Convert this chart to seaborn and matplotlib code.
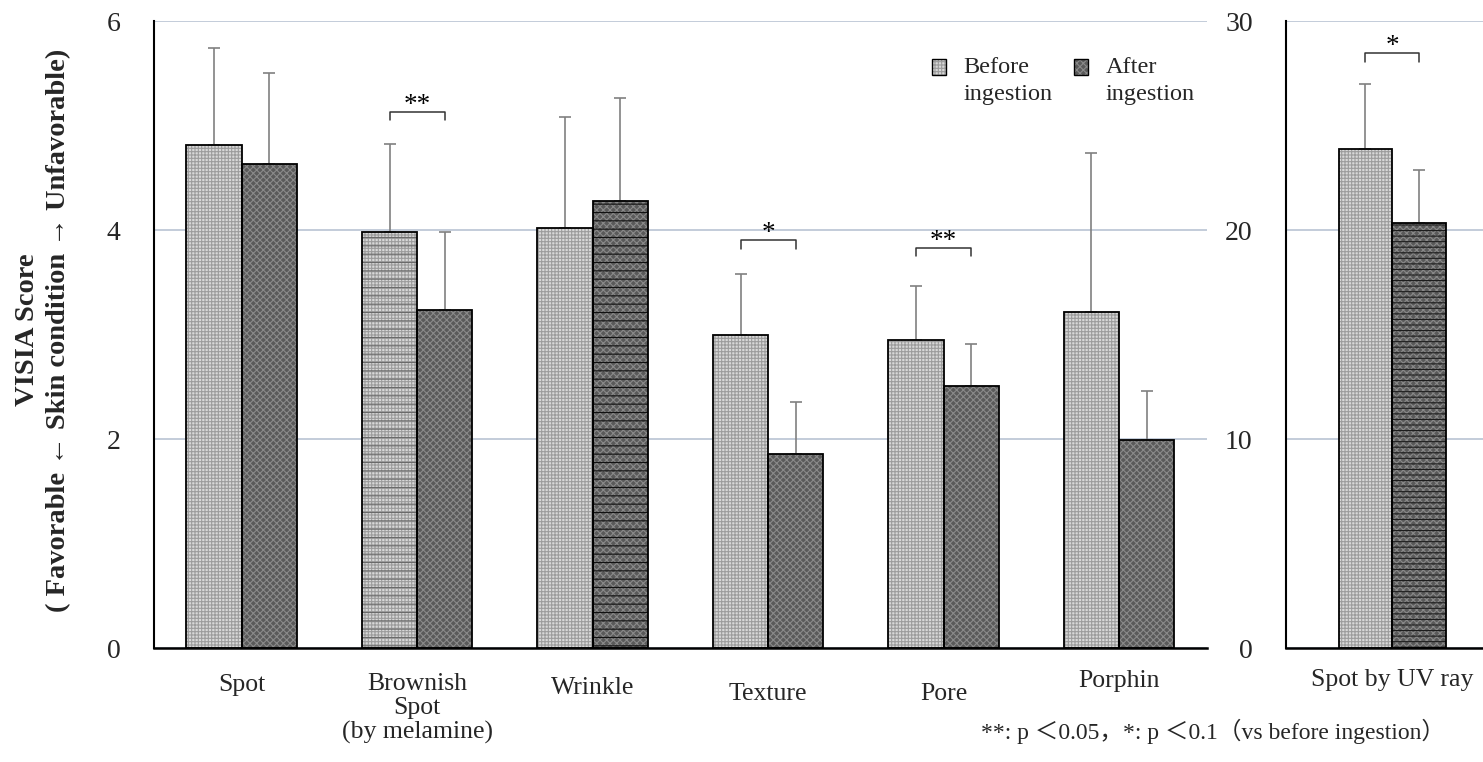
import numpy as np
import pandas as pd
import matplotlib
matplotlib.use("Agg")
import matplotlib.pyplot as plt
import matplotlib.patches as mpatches
from matplotlib.legend_handler import HandlerBase
from matplotlib.transforms import ScaledTranslation
import seaborn as sns

# ---- data -------------------------------------------------------------
categories = ["Spot", "Brownish\nSpot\n(by melamine)", "Wrinkle", "Texture", "Pore", "Porphin"]
before_mean = [4.81, 3.98, 4.02, 3.00, 2.95, 3.22]
before_sd = [0.93, 0.84, 1.06, 0.58, 0.51, 1.52]
after_mean = [4.63, 3.23, 4.28, 1.86, 2.51, 1.99]
after_sd = [0.87, 0.75, 0.98, 0.49, 0.40, 0.47]

uv_category = ["Spot by UV ray"]
uv_before_mean = [23.9]
uv_before_sd = [3.1]
uv_after_mean = [20.35]
uv_after_sd = [2.5]

phases = ["Before\ningestion", "After\ningestion"]
main_ticks = [0, 2, 4, 6]
uv_ticks = [0, 10, 20, 30]

# significance brackets: (category index, marker, bracket height)
main_sig = [(1, "**", 5.13), (3, "*", 3.90), (4, "**", 3.83)]
uv_sig = [(0, "*", 28.45)]

ylabel_text = "VISIA Score\n( Favorable ← Skin condition → Unfavorable)"
footnote = "**: p ＜0.05，*: p ＜0.1（vs before ingestion）"

# ---- style ------------------------------------------------------------
sns.set_theme(style="white")
plt.rcParams["font.family"] = ["Liberation Serif", "Noto Sans CJK JP", "DejaVu Sans"]
plt.rcParams["hatch.linewidth"] = 0.8

FACE = ["#d8d8d8", "#5a5a5a"]
HATCH = ["+++++", "xxxxx"]
HATCH_COLOR = ["#9c9c9c", "#8a8a8a"]
GRID = "#b3bfd0"
ERR = "#808080"
# extra horizontal stripes on some bars: (phase, category) -> (hatch, colour)
main_stripes = {(0, 1): ("--", "#6a6a6a"), (1, 2): ("--", "#111111")}
uv_stripes = {(1, 0): ("---", "#1c1c1c")}
# small vertical shifts (points) of individual category labels
main_label_shift = [0, -1, 2, 6, 6.5, -3]
uv_label_shift = [-4]


class LayeredSquare(HandlerBase):
    """Legend square with a textured fill and a black outline."""

    def __init__(self, idx, dy):
        super().__init__()
        self.idx = idx
        self.dy = dy

    def create_artists(self, legend, orig_handle, xdescent, ydescent,
                       width, height, fontsize, trans):
        xy = (-xdescent, -ydescent + self.dy)
        fill = mpatches.Rectangle(xy, width, height, facecolor=FACE[self.idx],
                                  hatch=HATCH[self.idx], edgecolor=HATCH_COLOR[self.idx],
                                  linewidth=0, transform=trans)
        edge = mpatches.Rectangle(xy, width, height, fill=False, edgecolor="black",
                                  linewidth=1.0, transform=trans)
        return [fill, edge]


def style_bars(ax, stripes, means, sds):
    for p, cont in enumerate(ax.containers[:2]):
        xs = []
        for c, bar in enumerate(cont):
            bar.set_hatch(HATCH[p])
            bar.set_edgecolor(HATCH_COLOR[p])
            bar.set_linewidth(0)
            x, y = bar.get_xy()
            w, h = bar.get_width(), bar.get_height()
            if (p, c) in stripes:
                hs, col = stripes[(p, c)]
                ax.add_patch(mpatches.Rectangle((x, y), w, h, fill=False, hatch=hs,
                                                edgecolor=col, linewidth=0, zorder=2.1))
            ax.add_patch(mpatches.Rectangle((x, y), w, h, fill=False, edgecolor="black",
                                            linewidth=1.3, zorder=2.2))
            xs.append(x + w / 2)
        ax.errorbar(xs, means[p], yerr=[np.zeros(len(xs)), sds[p]], fmt="none",
                    ecolor=ERR, elinewidth=1.2, capsize=4, capthick=1.2, zorder=1.9)


def brackets(ax, sig, drop, size):
    before_bars = ax.containers[0]
    after_bars = ax.containers[1]
    for c, mark, level in sig:
        b0, b1 = before_bars[c], after_bars[c]
        x0 = b0.get_x() + b0.get_width() / 2
        x1 = b1.get_x() + b1.get_width() / 2
        ax.plot([x0, x0, x1, x1], [level - drop, level, level, level - drop],
                color="#333333", lw=1.1, zorder=3)
        ax.text((x0 + x1) / 2, level, mark, ha="center", va="baseline",
                fontsize=size, color="black")


def frame(ax, ticks, ymax):
    ax.set_ylim(0, ymax)
    ax.set_yticks(ticks)
    ax.yaxis.grid(True, color=GRID, linewidth=1.1)
    ax.xaxis.grid(False)
    ax.set_axisbelow(True)
    for s in ("top", "right"):
        ax.spines[s].set_visible(False)
    ax.spines["left"].set_color("black")
    ax.spines["left"].set_linewidth(1.5)
    ax.spines["bottom"].set_color("black")
    ax.spines["bottom"].set_linewidth(1.8)
    ax.tick_params(axis="y", length=0, pad=24, labelsize=20)
    ax.tick_params(axis="x", length=0, pad=19, labelsize=18.5)
    ax.set_xlabel("")
    ax.set_ylabel("")


def shift_labels(ax, shifts):
    for lab, dy in zip(ax.get_xticklabels(), shifts):
        lab.set_linespacing(1.1)
        lab.set_transform(lab.get_transform()
                          + ScaledTranslation(0, -dy / 72, ax.figure.dpi_scale_trans))


fig = plt.figure(figsize=(14.83, 7.62), dpi=100)
ax = fig.add_axes([0.1038, 0.1496, 0.7100, 0.8228])
ax2 = fig.add_axes([0.8672, 0.1496, 0.1430, 0.8228])

# ---- main panel ------------------------------------------------------
df = pd.DataFrame({
    "category": categories * 2,
    "phase": [phases[0]] * len(categories) + [phases[1]] * len(categories),
    "score": before_mean + after_mean,
})
sns.barplot(data=df, x="category", y="score", hue="phase", order=categories,
            hue_order=phases, errorbar=None, width=0.63, palette=FACE,
            saturation=1, legend=False, ax=ax)
frame(ax, main_ticks, 6)
ax.set_xlim(-0.5, len(categories) - 0.5)
style_bars(ax, main_stripes, [before_mean, after_mean], [before_sd, after_sd])
brackets(ax, main_sig, 0.08, 19.5)
shift_labels(ax, main_label_shift)

proxies = [mpatches.Patch(), mpatches.Patch()]
leg = ax.legend(proxies, phases,
                handler_map={proxies[0]: LayeredSquare(0, 9.5),
                             proxies[1]: LayeredSquare(1, 9.5)},
                loc="upper left", bbox_to_anchor=(0.7388, 0.943), frameon=False,
                fontsize=17.5, handlelength=0.6, handleheight=0.6, handletextpad=0.7,
                columnspacing=0.87, ncol=2, borderpad=0, borderaxespad=0)
for t in leg.get_texts():
    t.set_linespacing(1.4)

# ---- UV panel --------------------------------------------------------
df_uv = pd.DataFrame({
    "category": uv_category * 2,
    "phase": phases,
    "score": uv_before_mean + uv_after_mean,
})
sns.barplot(data=df_uv, x="category", y="score", hue="phase", order=uv_category,
            hue_order=phases, errorbar=None, width=0.505, palette=FACE,
            saturation=1, legend=False, ax=ax2)
frame(ax2, uv_ticks, 30)
ax2.set_xlim(-0.5, 0.5)
style_bars(ax2, uv_stripes, [uv_before_mean, uv_after_mean], [uv_before_sd, uv_after_sd])
brackets(ax2, uv_sig, 0.4, 19.5)
shift_labels(ax2, uv_label_shift)

# ---- shared texts ----------------------------------------------------
fig.text(0.029, 0.567, ylabel_text, rotation=90, ha="center", va="center",
         fontsize=20.5, fontweight="bold", linespacing=1.3)
fig.text(0.9745, 0.0407, footnote, ha="right", va="center", fontsize=17)

fig.savefig("out.png", dpi=100)
